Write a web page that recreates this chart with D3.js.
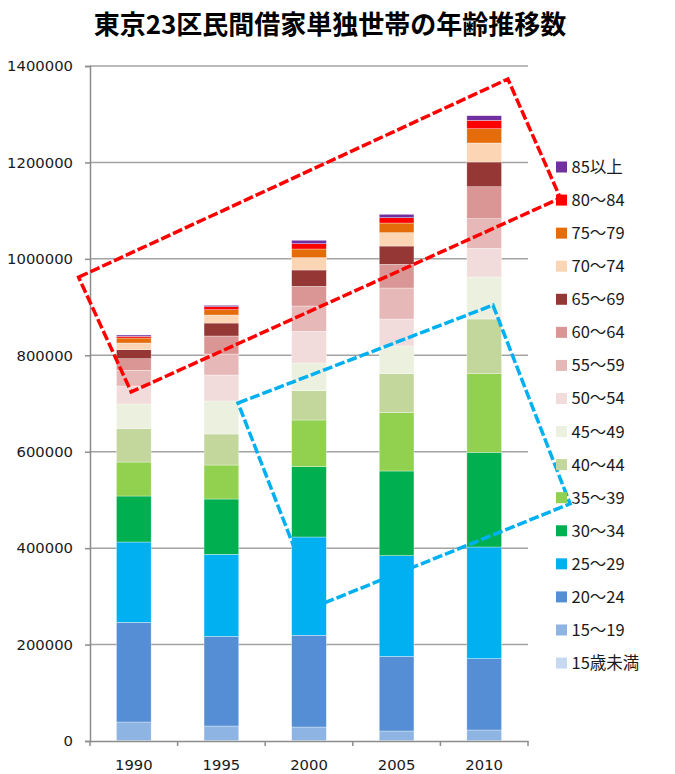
<!DOCTYPE html>
<html>
<head>
<meta charset="utf-8">
<script src="https://cdn.jsdelivr.net/npm/d3@7"></script>
<style>
  html, body { margin: 0; padding: 0; background: #fff; }
  svg { display: block; }
</style>
</head>
<body>
<svg id="chart" width="675" height="774"></svg>
<script>
// Census years on the x axis
const years = ["1990", "1995", "2000", "2005", "2010"];

// Age groups, stacked bottom to top
const ageGroups = ["15歳未満", "15〜19", "20〜24", "25〜29", "30〜34", "35〜39", "40〜44",
  "45〜49", "50〜54", "55〜59", "60〜64", "65〜69", "70〜74", "75〜79", "80〜84", "85以上"];

const ageColors = ["#C6D9F1", "#8EB4E3", "#558ED5", "#00B0F0", "#00B050", "#92D050", "#C3D69B",
  "#EBF1DE", "#F2DCDB", "#E6B9B8", "#D99694", "#953735", "#FCD5B5", "#E46C0A", "#FF0000", "#7030A0"];

// Single-person private-rental households per age group (same order as ageGroups)
const households1990 = [1000, 38400, 206700, 166600, 95400, 70500, 69200, 51200, 37300, 32500, 24100, 18700, 13900, 10300, 3500, 2700];
const households1995 = [1000, 30100, 186000, 170100, 114700, 70500, 64300, 68500, 53900, 43500, 37400, 26900, 16600, 11000, 6300, 2800];
const households2000 = [1000, 28000, 190200, 203900, 145900, 96800, 60700, 57500, 65700, 52500, 40800, 33900, 25500, 18000, 11000, 7100];
const households2005 = [1000, 19700, 154900, 208800, 175600, 121000, 80800, 57400, 56000, 64300, 49200, 37900, 27700, 20000, 11100, 7000];
const households2010 = [1000, 21800, 148000, 231600, 196300, 163100, 113400, 87100, 59500, 61500, 66300, 51300, 39400, 29600, 17400, 9600];

const yTicks = [0, 200000, 400000, 600000, 800000, 1000000, 1200000, 1400000];

// Highlight frames: [category position (0 = first year), value]
const olderFrame = [[-0.63, 962000], [4.27, 1373000], [4.87, 1126000], [-0.03, 724000]];
const youngerFrame = [[1.19, 701000], [4.10, 904000], [4.98, 492000], [2.09, 280000]];

const title = "東京23区民間借家単独世帯の年齢推移数";

// ---- build table ----
const seriesByYear = [households1990, households1995, households2000, households2005, households2010];
const table = years.map((y, i) => {
  const row = { year: y };
  ageGroups.forEach((g, j) => { row[g] = seriesByYear[i][j]; });
  return row;
});

const svg = d3.select("#chart");
const plot = { left: 90, right: 528, top: 66, bottom: 741 };

const x = d3.scaleBand().domain(years).range([plot.left, plot.right]).padding(0);
const xPos = d3.scaleLinear().domain([-0.5, years.length - 0.5]).range([plot.left, plot.right]);
const y = d3.scaleLinear().domain([0, 1400000]).range([plot.bottom, plot.top]);
const color = d3.scaleOrdinal().domain(ageGroups).range(ageColors);

const barW = x.bandwidth() * 0.396;

// Title
svg.append("text")
  .attr("x", 330).attr("y", 34)
  .attr("text-anchor", "middle")
  .style("font-family", "'Noto Sans CJK JP', sans-serif")
  .style("font-weight", "700")
  .style("font-size", "26px")
  .attr("fill", "#000")
  .text(title);

// Gridlines
svg.append("g")
  .selectAll("line")
  .data(yTicks.filter(t => t > 0))
  .join("line")
  .attr("x1", plot.left).attr("x2", plot.right)
  .attr("y1", d => y(d)).attr("y2", d => y(d))
  .attr("stroke", "#a3a3a3").attr("stroke-width", 1.5);

// Y axis
const yAxis = svg.append("g")
  .attr("transform", `translate(${plot.left},0)`)
  .call(d3.axisLeft(y).tickValues(yTicks).tickFormat(d3.format("d")).tickSize(5).tickPadding(12));
yAxis.select(".domain").attr("stroke", "#8c8c8c").attr("stroke-width", 1.5);
yAxis.selectAll(".tick line").attr("stroke", "#8c8c8c").attr("stroke-width", 1.5);
yAxis.selectAll("text")
  .style("font-family", "'DejaVu Sans', sans-serif")
  .style("font-size", "14.8px")
  .attr("fill", "#1a1a1a");

// Stacked bars
const stacked = d3.stack().keys(ageGroups)(table);
svg.append("g")
  .selectAll("g")
  .data(stacked)
  .join("g")
  .attr("fill", d => color(d.key))
  .selectAll("rect")
  .data(d => d)
  .join("rect")
  .attr("x", d => x(d.data.year) + (x.bandwidth() - barW) / 2)
  .attr("width", barW)
  .attr("y", d => y(d[1]))
  .attr("height", d => y(d[0]) - y(d[1]))
  .attr("stroke", "rgba(255,255,255,0.55)")
  .attr("stroke-width", 0.6);

// X axis
const xAxis = svg.append("g")
  .attr("transform", `translate(0,${plot.bottom})`)
  .call(d3.axisBottom(x).tickSize(0).tickPadding(18));
xAxis.select(".domain").attr("stroke", "#8c8c8c").attr("stroke-width", 1.5);
xAxis.selectAll("text")
  .style("font-family", "'DejaVu Sans', sans-serif")
  .style("font-size", "14.8px")
  .attr("fill", "#1a1a1a");
// Category separators below the axis
svg.append("g")
  .selectAll("line")
  .data(d3.range(years.length + 1))
  .join("line")
  .attr("x1", i => xPos(i - 0.5)).attr("x2", i => xPos(i - 0.5))
  .attr("y1", plot.bottom).attr("y2", plot.bottom + 5)
  .attr("stroke", "#8c8c8c").attr("stroke-width", 1.5);

// Highlight frames
const frameLine = d3.line().x(d => xPos(d[0])).y(d => y(d[1])).curve(d3.curveLinearClosed);
svg.append("path")
  .attr("d", frameLine(olderFrame))
  .attr("fill", "none")
  .attr("stroke", "#FF0000")
  .attr("stroke-width", 3.5)
  .attr("stroke-dasharray", "10 3");
svg.append("path")
  .attr("d", frameLine(youngerFrame))
  .attr("fill", "none")
  .attr("stroke", "#00B0F0")
  .attr("stroke-width", 3.5)
  .attr("stroke-dasharray", "10 3");

// Legend (top item = last stacked group)
const legendItems = ageGroups.slice().reverse();
const legend = svg.append("g").attr("transform", "translate(556,167)");
const li = legend.selectAll("g")
  .data(legendItems)
  .join("g")
  .attr("transform", (d, i) => `translate(0,${i * 33.07})`);
li.append("rect")
  .attr("x", 0).attr("y", -5.5)
  .attr("width", 11).attr("height", 11)
  .attr("fill", d => color(d));
li.append("text")
  .attr("x", 15.5).attr("y", 0)
  .attr("dy", "0.36em")
  .style("font-family", "'Noto Sans CJK JP', sans-serif")
  .style("font-size", "16.5px")
  .attr("fill", "#1a1a1a")
  .text(d => d);
</script>
</body>
</html>
